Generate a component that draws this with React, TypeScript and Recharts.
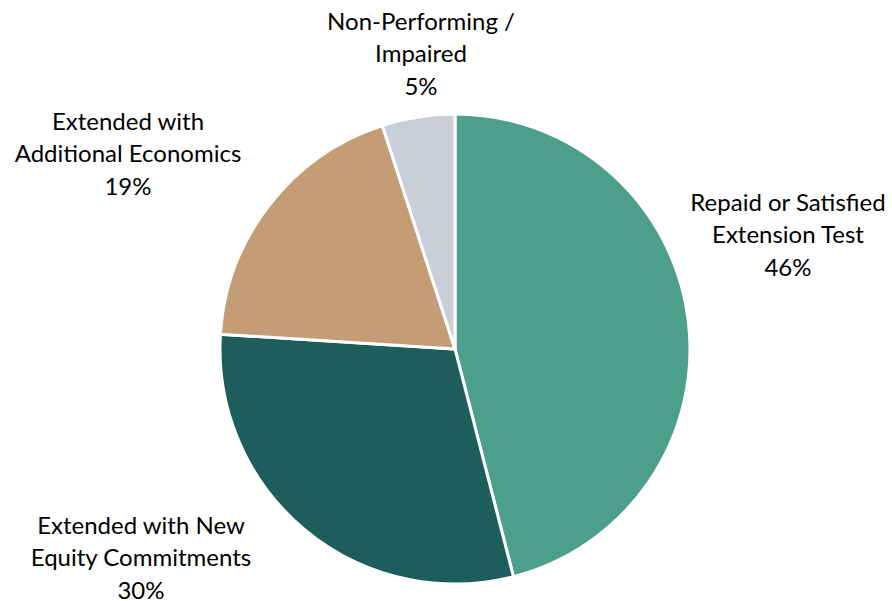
import { PieChart, Pie, Cell } from "recharts";

const categories = [
  "Repaid or Satisfied|Extension Test",
  "Extended with New|Equity Commitments",
  "Extended with|Additional Economics",
  "Non-Performing /|Impaired",
];
const shares = [46, 30, 19, 5];
const colors = ["#4C9F8A", "#1D5E5C", "#C49C76", "#C9CED7"];

const data = categories.map((name, i) => ({ name, value: shares[i] }));

// label block centres, relative to the pie centre
const labelOffsets = [
  { dx: 333, dy: -116 },
  { dx: -314, dy: 207 },
  { dx: -327, dy: -197 },
  { dx: -34, dy: -297 },
];

const LINE_H = 32.5;

function renderLabel(props: any) {
  const { cx, cy, index, name, value } = props;
  const off = labelOffsets[index];
  const lines = [...String(name).split("|"), `${value}%`];
  const x = cx + off.dx;
  const y0 = cy + off.dy - ((lines.length - 1) * LINE_H) / 2;
  return (
    <text
      x={x}
      y={y0}
      textAnchor="middle"
      dominantBaseline="central"
      fill="#000"
      fontFamily="Lato, 'Open Sans', sans-serif"
      fontSize={24}
    >
      {lines.map((l, i) => (
        <tspan key={i} x={x} y={y0 + i * LINE_H}>
          {l}
        </tspan>
      ))}
    </text>
  );
}

export default function App() {
  return (
    <div style={{ position: "absolute", left: 0, top: 0, width: 892, height: 601, background: "#fff" }}>
      <PieChart width={892} height={601} margin={{ top: 0, right: 0, bottom: 0, left: 0 }}>
        <Pie
          data={data}
          dataKey="value"
          nameKey="name"
          cx={455}
          cy={349}
          outerRadius={235}
          startAngle={90}
          endAngle={-270}
          stroke="#fff"
          strokeWidth={3}
          label={renderLabel}
          labelLine={false}
          isAnimationActive={false}
        >
          {data.map((d, i) => (
            <Cell key={d.name} fill={colors[i]} />
          ))}
        </Pie>
      </PieChart>
    </div>
  );
}
